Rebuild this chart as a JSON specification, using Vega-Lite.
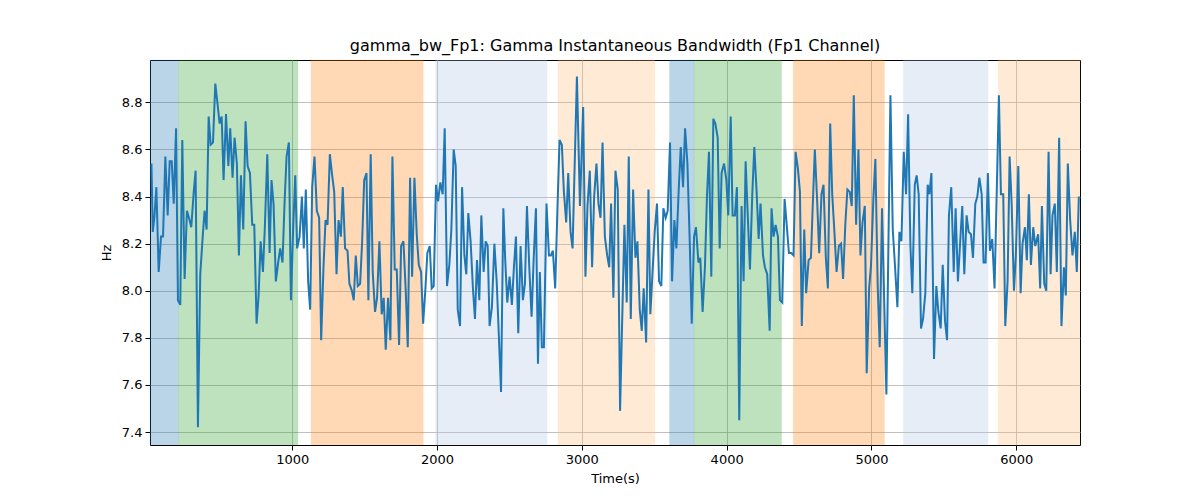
{
  "$schema": "https://vega.github.io/schema/vega-lite/v6.json",
  "width": 930,
  "height": 385,
  "autosize": {"type": "none"},
  "padding": {"left": 150, "top": 60, "right": 120, "bottom": 55},
  "background": "white",
  "config": {
    "font": "DejaVu Sans",
    "view": {"stroke": "black", "strokeWidth": 1},
    "axis": {
      "labelFont": "DejaVu Sans", "labelFontSize": 13, "labelColor": "black",
      "titleFont": "DejaVu Sans", "titleFontSize": 13, "titleFontWeight": "normal", "titleColor": "black",
      "tickColor": "black", "tickSize": 5, "domain": false,
      "grid": true, "gridColor": "#b0b0b0", "gridWidth": 0.8
    },
    "title": {"font": "DejaVu Sans", "fontSize": 16, "fontWeight": "normal", "color": "black"}
  },
  "title": {"text": "gamma_bw_Fp1: Gamma Instantaneous Bandwidth (Fp1 Channel)", "offset": 6},
  "datasets": {
    "bands": [
      {"start": 18, "end": 215, "stage": "blue"},
      {"start": 215, "end": 1040, "stage": "green"},
      {"start": 1130, "end": 1905, "stage": "orange"},
      {"start": 1990, "end": 2760, "stage": "lightblue"},
      {"start": 2835, "end": 3505, "stage": "lightorange"},
      {"start": 3605, "end": 3775, "stage": "blue"},
      {"start": 3775, "end": 4380, "stage": "green"},
      {"start": 4460, "end": 5090, "stage": "orange"},
      {"start": 5220, "end": 5805, "stage": "lightblue"},
      {"start": 5875, "end": 6440, "stage": "lightorange"}
    ],
    "series": [
      {"t":28,"v":8.54},{"t":37,"v":8.25},{"t":48,"v":8.31},{"t":62,"v":8.44},{"t":78,"v":8.08},{"t":94,"v":8.23},{"t":108,"v":8.23},{"t":124,"v":8.57},{"t":140,"v":8.32},{"t":154,"v":8.55},{"t":168,"v":8.55},{"t":182,"v":8.37},{"t":198,"v":8.69},{"t":211,"v":7.96},{"t":227,"v":7.94},{"t":241,"v":8.64},{"t":257,"v":8.05},{"t":273,"v":8.34},{"t":287,"v":8.31},{"t":303,"v":8.27},{"t":320,"v":8.42},{"t":333,"v":8.51},{"t":349,"v":7.42},{"t":365,"v":8.07},{"t":382,"v":8.23},{"t":395,"v":8.34},{"t":409,"v":8.26},{"t":423,"v":8.74},{"t":437,"v":8.62},{"t":453,"v":8.63},{"t":469,"v":8.88},{"t":485,"v":8.79},{"t":499,"v":8.71},{"t":513,"v":8.74},{"t":526,"v":8.47},{"t":543,"v":8.75},{"t":559,"v":8.53},{"t":572,"v":8.69},{"t":588,"v":8.48},{"t":602,"v":8.65},{"t":618,"v":8.54},{"t":632,"v":8.15},{"t":646,"v":8.49},{"t":662,"v":8.26},{"t":678,"v":8.72},{"t":692,"v":8.53},{"t":708,"v":8.50},{"t":724,"v":8.28},{"t":738,"v":8.28},{"t":754,"v":7.86},{"t":768,"v":7.98},{"t":782,"v":8.21},{"t":798,"v":8.08},{"t":811,"v":8.27},{"t":828,"v":8.58},{"t":844,"v":8.16},{"t":857,"v":8.47},{"t":871,"v":8.37},{"t":887,"v":8.04},{"t":903,"v":8.12},{"t":917,"v":8.18},{"t":933,"v":8.12},{"t":947,"v":8.37},{"t":961,"v":8.57},{"t":977,"v":8.63},{"t":991,"v":7.96},{"t":1007,"v":8.27},{"t":1021,"v":8.49},{"t":1034,"v":8.18},{"t":1051,"v":8.23},{"t":1067,"v":8.40},{"t":1080,"v":8.18},{"t":1094,"v":8.43},{"t":1110,"v":8.04},{"t":1124,"v":7.92},{"t":1138,"v":8.44},{"t":1154,"v":8.57},{"t":1170,"v":8.34},{"t":1186,"v":8.31},{"t":1200,"v":7.79},{"t":1216,"v":8.10},{"t":1230,"v":8.30},{"t":1244,"v":8.28},{"t":1260,"v":8.58},{"t":1274,"v":8.50},{"t":1290,"v":8.42},{"t":1306,"v":8.07},{"t":1320,"v":8.30},{"t":1336,"v":8.23},{"t":1349,"v":8.44},{"t":1365,"v":8.18},{"t":1382,"v":8.17},{"t":1395,"v":8.03},{"t":1412,"v":8.00},{"t":1425,"v":7.96},{"t":1439,"v":8.15},{"t":1453,"v":8.02},{"t":1469,"v":8.03},{"t":1483,"v":8.21},{"t":1497,"v":8.47},{"t":1513,"v":8.50},{"t":1526,"v":7.96},{"t":1542,"v":8.58},{"t":1556,"v":8.08},{"t":1572,"v":7.91},{"t":1586,"v":7.97},{"t":1602,"v":8.21},
      {"t":1618,"v":7.90},{"t":1632,"v":7.97},{"t":1646,"v":7.75},{"t":1662,"v":7.97},{"t":1678,"v":7.79},{"t":1692,"v":8.57},{"t":1708,"v":8.09},{"t":1722,"v":8.09},{"t":1738,"v":7.77},{"t":1752,"v":8.19},{"t":1768,"v":8.21},{"t":1784,"v":8.00},{"t":1798,"v":7.76},{"t":1814,"v":8.48},{"t":1828,"v":8.06},{"t":1844,"v":8.48},{"t":1860,"v":8.24},{"t":1874,"v":8.11},{"t":1890,"v":8.08},{"t":1904,"v":7.86},{"t":1920,"v":8.01},{"t":1933,"v":8.16},{"t":1950,"v":8.19},{"t":1963,"v":8.01},{"t":1977,"v":8.02},{"t":1993,"v":8.45},{"t":2007,"v":8.38},{"t":2023,"v":8.46},{"t":2039,"v":8.41},{"t":2053,"v":8.69},{"t":2069,"v":8.02},{"t":2085,"v":8.11},{"t":2099,"v":8.26},{"t":2115,"v":8.60},{"t":2129,"v":8.53},{"t":2143,"v":7.92},{"t":2159,"v":7.85},{"t":2173,"v":8.44},{"t":2189,"v":8.15},{"t":2202,"v":8.07},{"t":2216,"v":8.33},{"t":2232,"v":8.21},{"t":2248,"v":8.01},{"t":2262,"v":7.88},{"t":2276,"v":8.13},{"t":2292,"v":7.96},{"t":2306,"v":8.32},{"t":2322,"v":8.08},{"t":2336,"v":8.21},{"t":2350,"v":8.19},{"t":2363,"v":7.85},{"t":2379,"v":7.93},{"t":2396,"v":8.20},{"t":2412,"v":8.04},{"t":2425,"v":7.84},{"t":2442,"v":7.57},{"t":2458,"v":8.35},{"t":2471,"v":8.13},{"t":2485,"v":7.95},{"t":2501,"v":8.06},{"t":2517,"v":7.94},{"t":2531,"v":8.10},{"t":2545,"v":8.23},{"t":2561,"v":7.82},{"t":2577,"v":8.19},{"t":2593,"v":7.96},{"t":2607,"v":8.03},{"t":2621,"v":8.36},{"t":2637,"v":8.10},{"t":2653,"v":7.89},{"t":2667,"v":8.13},{"t":2683,"v":8.35},{"t":2697,"v":7.69},{"t":2710,"v":8.08},{"t":2724,"v":7.76},{"t":2738,"v":7.76},{"t":2756,"v":8.37},{"t":2773,"v":8.15},{"t":2786,"v":8.15},{"t":2800,"v":8.17},{"t":2816,"v":8.01},{"t":2832,"v":8.36},{"t":2846,"v":8.64},{"t":2862,"v":8.62},{"t":2876,"v":8.42},{"t":2892,"v":8.29},{"t":2906,"v":8.50},{"t":2922,"v":8.25},{"t":2936,"v":8.18},{"t":2966,"v":8.91},{"t":2987,"v":8.36},{"t":3009,"v":8.78},{"t":3025,"v":8.06},{"t":3039,"v":8.36},{"t":3055,"v":8.51},{"t":3071,"v":8.10},{"t":3085,"v":8.40},{"t":3101,"v":8.54},{"t":3115,"v":8.37},{"t":3129,"v":8.31},{"t":3143,"v":8.63},{"t":3159,"v":8.23},{"t":3175,"v":8.15},{"t":3189,"v":8.10},
      {"t":3202,"v":8.37},{"t":3218,"v":7.97},{"t":3232,"v":8.51},{"t":3248,"v":8.43},{"t":3264,"v":7.49},{"t":3294,"v":8.28},{"t":3310,"v":7.95},{"t":3324,"v":8.57},{"t":3338,"v":7.88},{"t":3354,"v":8.43},{"t":3370,"v":8.14},{"t":3384,"v":8.21},{"t":3400,"v":7.92},{"t":3414,"v":7.83},{"t":3427,"v":8.01},{"t":3444,"v":7.78},{"t":3460,"v":8.43},{"t":3473,"v":7.90},{"t":3490,"v":8.10},{"t":3503,"v":8.25},{"t":3519,"v":8.37},{"t":3533,"v":8.04},{"t":3549,"v":8.02},{"t":3563,"v":8.35},{"t":3579,"v":8.31},{"t":3593,"v":8.34},{"t":3609,"v":8.63},{"t":3623,"v":8.04},{"t":3639,"v":8.30},{"t":3653,"v":8.18},{"t":3669,"v":8.43},{"t":3683,"v":8.61},{"t":3699,"v":8.44},{"t":3713,"v":8.69},{"t":3729,"v":8.54},{"t":3745,"v":8.21},{"t":3759,"v":7.86},{"t":3775,"v":8.23},{"t":3788,"v":8.27},{"t":3805,"v":8.12},{"t":3818,"v":8.14},{"t":3834,"v":7.91},{"t":3850,"v":8.10},{"t":3864,"v":8.40},{"t":3878,"v":8.59},{"t":3894,"v":8.06},{"t":3908,"v":8.73},{"t":3922,"v":8.71},{"t":3938,"v":8.65},{"t":3952,"v":8.18},{"t":3965,"v":8.50},{"t":3982,"v":8.54},{"t":3998,"v":8.47},{"t":4011,"v":8.32},{"t":4028,"v":8.74},{"t":4041,"v":8.32},{"t":4057,"v":8.32},{"t":4071,"v":8.44},{"t":4087,"v":7.45},{"t":4103,"v":8.36},{"t":4117,"v":8.04},{"t":4131,"v":8.55},{"t":4147,"v":8.30},{"t":4161,"v":8.09},{"t":4177,"v":8.41},{"t":4191,"v":8.61},{"t":4207,"v":8.42},{"t":4221,"v":8.22},{"t":4234,"v":8.37},{"t":4251,"v":8.15},{"t":4264,"v":8.10},{"t":4280,"v":8.07},{"t":4297,"v":7.83},{"t":4310,"v":8.35},{"t":4324,"v":8.23},{"t":4338,"v":8.28},{"t":4354,"v":8.23},{"t":4368,"v":7.96},{"t":4384,"v":7.95},{"t":4400,"v":8.39},{"t":4416,"v":8.27},{"t":4430,"v":8.16},{"t":4446,"v":8.16},{"t":4462,"v":8.15},{"t":4476,"v":8.59},{"t":4492,"v":8.52},{"t":4506,"v":8.42},{"t":4519,"v":7.85},{"t":4536,"v":8.26},{"t":4549,"v":7.99},{"t":4566,"v":8.13},{"t":4582,"v":8.14},{"t":4595,"v":8.37},{"t":4609,"v":8.60},{"t":4625,"v":8.38},{"t":4639,"v":8.16},{"t":4655,"v":8.41},{"t":4669,"v":8.45},{"t":4685,"v":8.14},{"t":4699,"v":8.01},{"t":4715,"v":8.71},{"t":4729,"v":8.41},{"t":4745,"v":8.24},{"t":4759,"v":8.08},{"t":4775,"v":8.19},
      {"t":4790,"v":8.20},{"t":4804,"v":8.05},{"t":4820,"v":8.29},{"t":4834,"v":8.43},{"t":4850,"v":8.42},{"t":4864,"v":8.36},{"t":4878,"v":8.83},{"t":4894,"v":8.28},{"t":4910,"v":8.60},{"t":4924,"v":8.15},{"t":4938,"v":8.29},{"t":4954,"v":8.36},{"t":4967,"v":7.65},{"t":4984,"v":8.01},{"t":4997,"v":8.11},{"t":5013,"v":8.39},{"t":5027,"v":8.56},{"t":5043,"v":8.02},{"t":5057,"v":7.76},{"t":5073,"v":8.35},{"t":5103,"v":7.56},{"t":5131,"v":8.83},{"t":5147,"v":8.26},{"t":5163,"v":8.10},{"t":5179,"v":7.93},{"t":5193,"v":8.25},{"t":5207,"v":8.21},{"t":5223,"v":8.59},{"t":5239,"v":8.41},{"t":5253,"v":8.75},{"t":5269,"v":8.19},{"t":5282,"v":7.99},{"t":5299,"v":8.45},{"t":5312,"v":8.49},{"t":5326,"v":8.41},{"t":5342,"v":7.84},{"t":5356,"v":7.88},{"t":5372,"v":7.99},{"t":5388,"v":8.45},{"t":5400,"v":8.41},{"t":5414,"v":8.50},{"t":5432,"v":7.71},{"t":5448,"v":8.02},{"t":5462,"v":7.91},{"t":5478,"v":7.84},{"t":5492,"v":8.11},{"t":5508,"v":7.87},{"t":5522,"v":7.79},{"t":5535,"v":8.32},{"t":5551,"v":8.44},{"t":5568,"v":8.08},{"t":5581,"v":8.35},{"t":5597,"v":8.04},{"t":5611,"v":8.19},{"t":5627,"v":8.36},{"t":5641,"v":8.07},{"t":5657,"v":8.32},{"t":5671,"v":8.25},{"t":5687,"v":8.24},{"t":5701,"v":8.14},{"t":5717,"v":8.37},{"t":5731,"v":8.40},{"t":5745,"v":8.48},{"t":5761,"v":8.41},{"t":5774,"v":8.12},{"t":5788,"v":8.12},{"t":5804,"v":8.50},{"t":5818,"v":8.17},{"t":5834,"v":8.22},{"t":5850,"v":8.01},{"t":5880,"v":8.83},{"t":5894,"v":8.41},{"t":5910,"v":8.41},{"t":5924,"v":7.85},{"t":5940,"v":8.04},{"t":5954,"v":8.57},{"t":5968,"v":8.37},{"t":5984,"v":8.00},{"t":5997,"v":8.15},{"t":6014,"v":8.53},{"t":6030,"v":7.99},{"t":6043,"v":8.20},{"t":6060,"v":8.27},{"t":6073,"v":8.13},{"t":6087,"v":8.41},{"t":6101,"v":8.11},{"t":6117,"v":8.27},{"t":6131,"v":8.19},{"t":6151,"v":8.24},{"t":6165,"v":8.01},{"t":6177,"v":8.36},{"t":6193,"v":8.03},{"t":6207,"v":8.00},{"t":6223,"v":8.59},{"t":6237,"v":8.07},{"t":6250,"v":8.32},{"t":6266,"v":8.37},{"t":6280,"v":8.08},{"t":6296,"v":8.65},{"t":6312,"v":7.85},{"t":6329,"v":8.10},{"t":6342,"v":7.98},{"t":6356,"v":8.54},{"t":6372,"v":8.30},{"t":6388,"v":8.15},{"t":6404,"v":8.25},{"t":6418,"v":8.08},{"t":6432,"v":8.40}
    ]
  },
  "layer": [
    {
      "data": {"name": "bands"},
      "mark": {"type": "rect", "opacity": 0.3, "strokeWidth": 1, "strokeOpacity": 0.3},
      "encoding": {
        "x": {"field": "start", "type": "quantitative"},
        "x2": {"field": "end"},
        "color": {
          "field": "stage", "type": "nominal", "legend": null,
          "scale": {"domain": ["blue", "green", "orange", "lightblue", "lightorange"],
                    "range": ["#1f77b4", "#2ca02c", "#ff7f0e", "#aec7e8", "#ffbb78"]}
        },
        "stroke": {
          "field": "stage", "type": "nominal", "legend": null,
          "scale": {"domain": ["blue", "green", "orange", "lightblue", "lightorange"],
                    "range": ["#1f77b4", "#2ca02c", "#ff7f0e", "#aec7e8", "#ffbb78"]}
        }
      }
    },
    {
      "data": {"name": "series"},
      "mark": {"type": "line", "color": "#1f77b4", "strokeWidth": 2, "clip": true},
      "encoding": {
        "x": {
          "field": "t", "type": "quantitative", "title": "Time(s)",
          "scale": {"domain": [18, 6440], "nice": false, "zero": false},
          "axis": {"values": [1000, 2000, 3000, 4000, 5000, 6000], "format": "d", "labelPadding": 3, "titlePadding": 6}
        },
        "y": {
          "field": "v", "type": "quantitative", "title": "Hz",
          "scale": {"domain": [7.345, 8.98], "nice": false, "zero": false},
          "axis": {"values": [7.4, 7.6, 7.8, 8.0, 8.2, 8.4, 8.6, 8.8], "format": ".1f", "labelPadding": 3, "titlePadding": 8}
        }
      }
    }
  ]
}
